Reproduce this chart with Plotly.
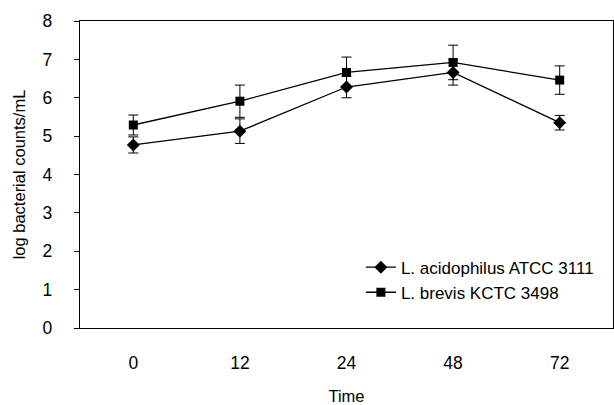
import plotly.graph_objects as go

time_labels = ["0", "12", "24", "48", "72"]
acid_vals = [4.77, 5.13, 6.28, 6.66, 5.35]
acid_err = [0.21, 0.32, 0.28, 0.33, 0.19]
brevis_vals = [5.29, 5.91, 6.66, 6.92, 6.46]
brevis_err = [0.26, 0.42, 0.40, 0.45, 0.37]

fig = go.Figure()
fig.add_trace(go.Scatter(
    x=time_labels, y=acid_vals, name="L. acidophilus ATCC 3111",
    mode="lines+markers",
    line=dict(color="black", width=1.3),
    marker=dict(symbol="diamond", size=10, color="black"),
    error_y=dict(type="data", array=acid_err, color="black", thickness=1, width=5),
))
fig.add_trace(go.Scatter(
    x=time_labels, y=brevis_vals, name="L. brevis KCTC 3498",
    mode="lines+markers",
    line=dict(color="black", width=1.3),
    marker=dict(symbol="square", size=9, color="black"),
    error_y=dict(type="data", array=brevis_err, color="black", thickness=1, width=5),
))

fig.update_layout(
    width=614, height=405,
    margin=dict(l=80, r=1, t=21, b=77, autoexpand=False),
    paper_bgcolor="white", plot_bgcolor="white",
    font=dict(family="Liberation Sans, Arial, sans-serif", color="black", size=17.5),
    showlegend=True,
    legend=dict(x=0.527, y=0.156, xanchor="left", yanchor="middle",
                bgcolor="rgba(0,0,0,0)", font=dict(size=17),
                tracegroupgap=0, itemwidth=30),
    xaxis=dict(
        type="category", range=[-0.5, 4.5], showgrid=False, showline=True,
        linecolor="black", linewidth=1.3,
        mirror=True, ticks="", ticklabelstandoff=19, automargin=False,
        title=dict(text="Time", font=dict(size=16.5), standoff=23),
    ),
    yaxis=dict(
        range=[0, 8], dtick=1, showgrid=False, zeroline=False, showline=True,
        linecolor="black", linewidth=1.3, mirror=True, automargin=False,
        ticks="outside", ticklen=5, tickcolor="black", ticklabelstandoff=18,
        title=dict(text="log bacterial counts/mL", font=dict(size=16.5), standoff=12),
    ),
)

fig.write_html("out.html", config={"responsive": False, "displayModeBar": False},
               post_script="document.body.style.margin='0';")
